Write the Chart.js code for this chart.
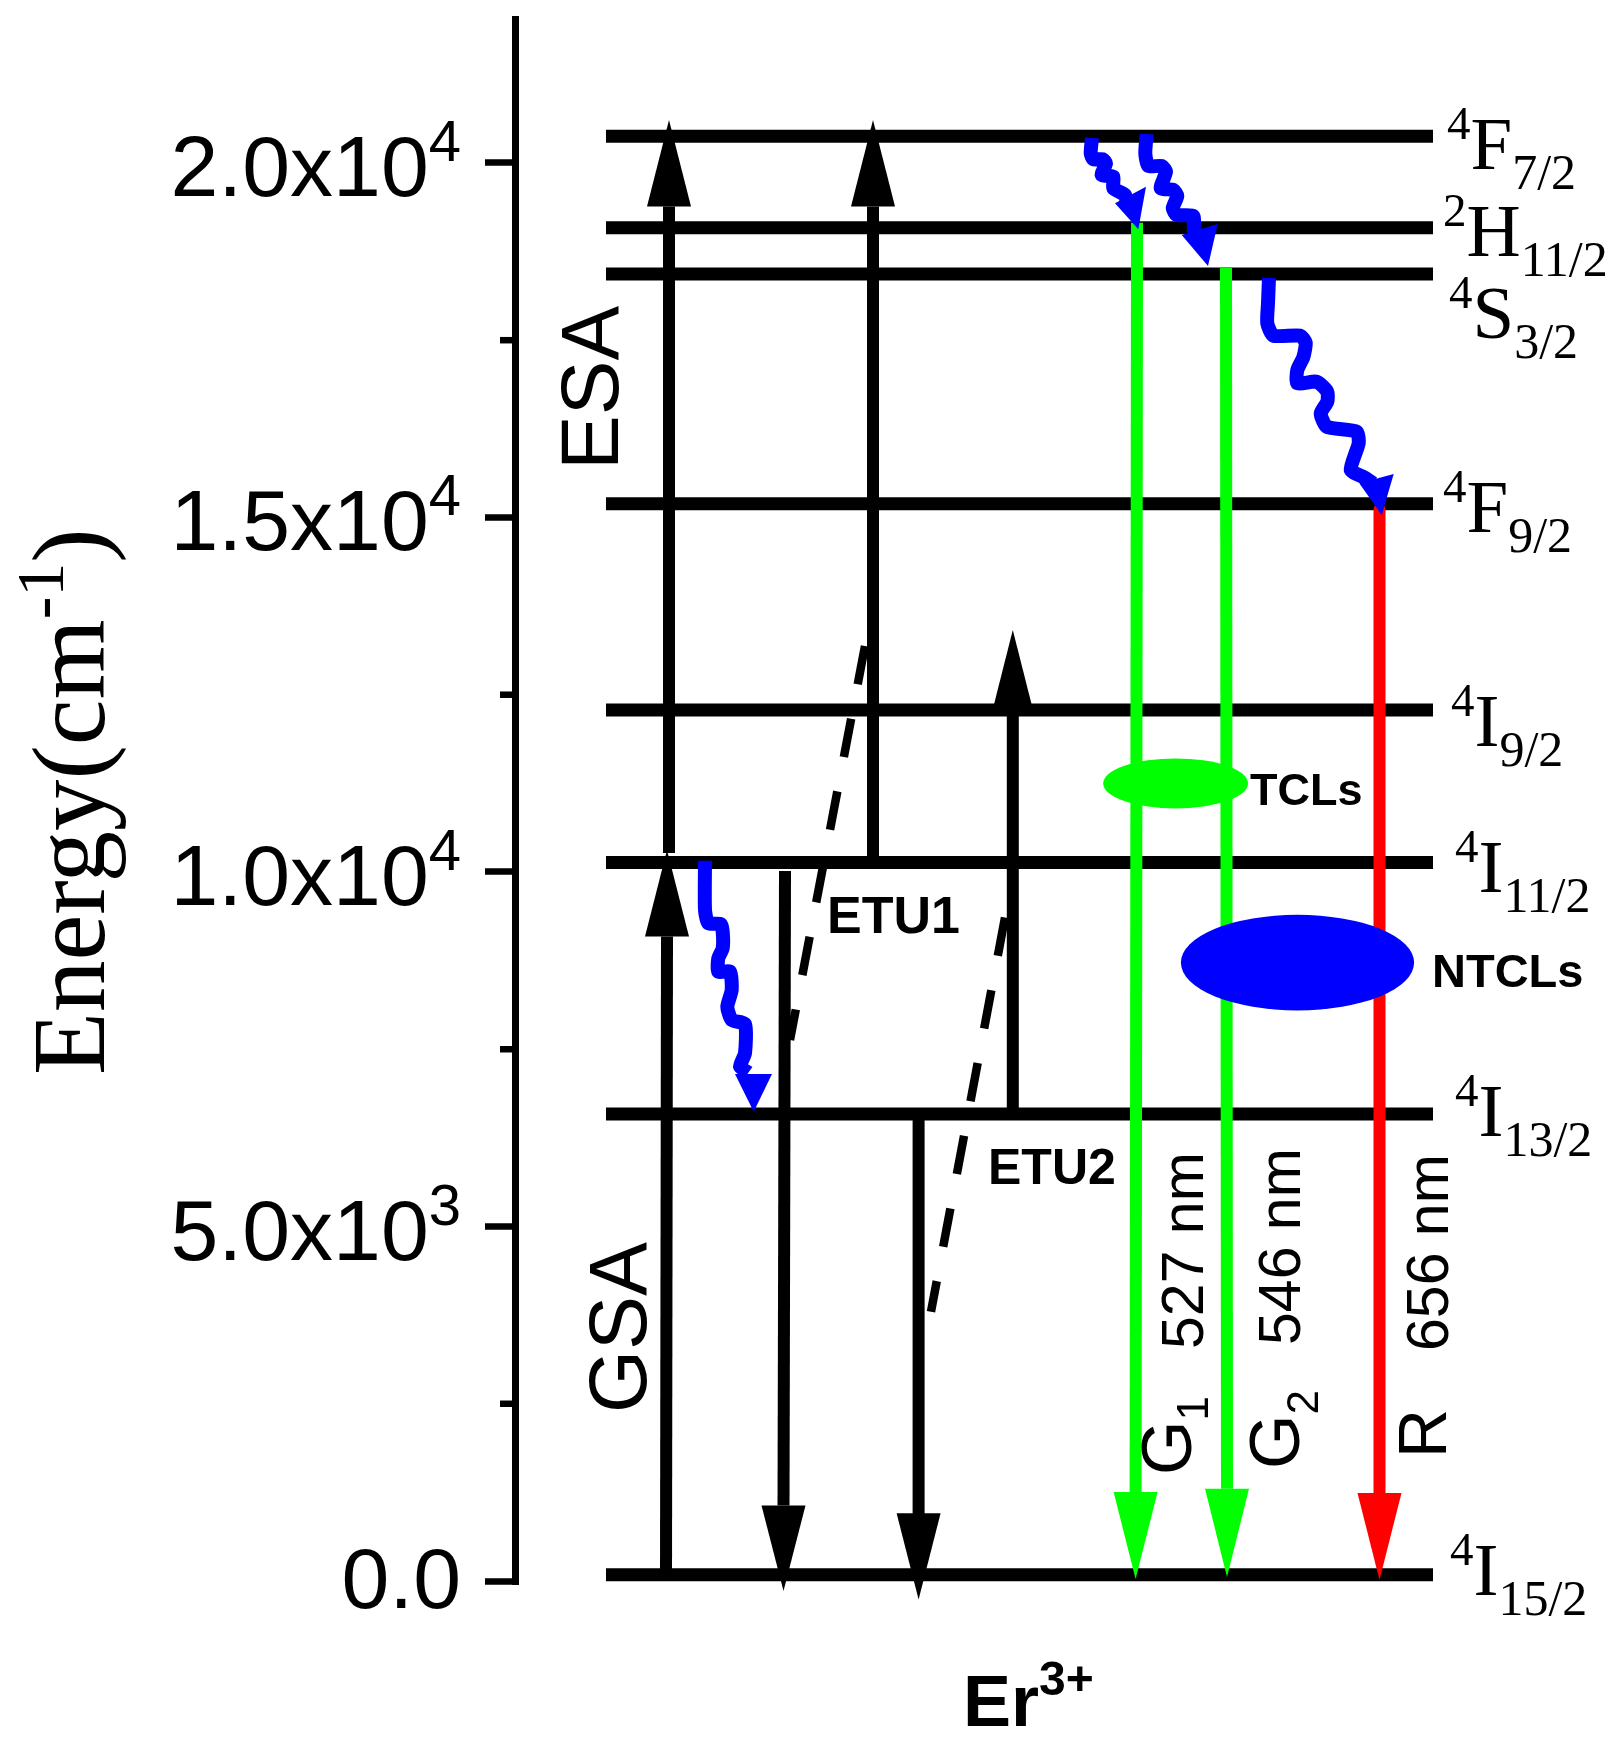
<!DOCTYPE html>
<html>
<head>
<meta charset="utf-8">
<title>Er3+ energy levels</title>
<script src="https://cdn.jsdelivr.net/npm/chart.js@4"></script>
<style>
    body { margin: 0; background: #fff; }
    canvas { display: block; }
</style>
</head>
<body>
<canvas id="levelChart" width="1622" height="1746"></canvas>
<script>
//Energy levels of Er3+ (cm-1), the x axis is just a position in the diagram (0-110)
const levelSup = ['4', '4', '4', '4', '4', '4', '2', '4'];
const levelLetter = ['I', 'I', 'I', 'I', 'F', 'S', 'H', 'F'];
const levelSub = ['15/2', '13/2', '11/2', '9/2', '9/2', '3/2', '11/2', '7/2'];
const levelEnergy = [90, 6587, 10134, 12285, 15192, 18434, 19086, 20375];
const levelStart = 9.1;
const levelEnd = 91.8;

//Axis ticks
const majorTicks = [0, 5000, 10000, 15000, 20000];
const minorTicks = [2500, 7500, 12500, 17500];
const tickMantissa = ['0.0', '5.0x10', '1.0x10', '1.5x10', '2.0x10'];
const tickExponent = ['', '3', '4', '4', '4'];

//Straight arrows
const arrowFromX = [15.1, 15.4, 35.8, 27.0, 40.36, 49.78, 62.2, 71.1, 86.45];
const arrowToX = [15.2, 15.4, 35.8, 26.85, 40.36, 49.78, 62.06, 71.2, 86.45];
const arrowFromE = [90, 10268, 10141, 10014, 6587, 6587, 19158, 18521, 15112];
const arrowBaseE = [9090, 19384, 19384, 1065, 955, 12369, 1255, 1300, 1241];
const arrowTipE = [10310, 20606, 20606, -141, -262, 13413, 28, 56, 14];

//Energy transfer (dashed) lines
const etu1Line = [{x: 35.0, y: 13187}, {x: 27.5, y: 7630}];
const etu2Line = [{x: 49.0, y: 9358}, {x: 41.6, y: 3798}];

//Non radiative relaxation (wavy) lines and their heads
const wavy1 = [[57.7, 20352], [57.57, 20136], [57.83, 20052], [58.77, 20052], [59.1, 19995], [58.67, 19830],
    [59.83, 19806], [59.83, 19643], [61.0, 19548], [61.17, 19431]];
const wavy1Head = [[63.1, 19665], [62.33, 19064], [60.0, 19431]];
const wavy2 = [[63.17, 20408], [63.03, 20136], [63.33, 19957], [64.67, 19957], [65.1, 19877], [64.57, 19643],
    [65.83, 19619], [66.23, 19534], [65.77, 19360], [66.17, 19266], [67.83, 19252], [67.9, 19055], [68.5, 18961]];
const wavy2Head = [[70.27, 19139], [69.3, 18547], [66.67, 18984]];
const wavy3 = [[75.4, 18378], [75.3, 18020], [75.23, 17738], [75.83, 17564], [78.5, 17564], [79.07, 17465],
    [78.83, 17259], [78.23, 17080], [78.23, 16892], [80.17, 16915], [81.23, 16774], [81.23, 16633],
    [80.57, 16469], [81.17, 16280], [84.17, 16210], [84.37, 16046], [83.57, 15669], [84.9, 15566], [85.83, 15482]];
const wavy3Head = [[87.87, 15613], [86.67, 15035], [84.43, 15482]];
const wavy4 = [[19.0, 10159], [19.0, 9464], [19.33, 9276], [20.57, 9266], [20.77, 9158], [20.77, 8924],
    [20.33, 8783], [20.33, 8594], [21.5, 8594], [21.67, 8335], [21.23, 8100], [21.67, 7912],
    [23.0, 7856], [23.0, 7443], [22.5, 7254], [23.33, 7169]];
const wavy4Head = [[22.0, 7151], [25.7, 7151], [23.87, 6619]];

//Ellipses marking the TCLs and NTCLs: centre x, centre energy, x radius, energy radius
const tclEllipse = [66.06, 11249, 7.24, 353];
const ntclEllipse = [78.25, 8722, 11.66, 674];

//Styles
const BLACK = '#000000';
const GREEN = '#00ff00';
const RED = '#ff0000';
const BLUE = '#0000ff';
const arrowColors = [BLACK, BLACK, BLACK, BLACK, BLACK, BLACK, GREEN, GREEN, RED];
const arrowHalfWidths = [2.2, 2.2, 2.2, 2.2, 2.2, 1.87, 2.2, 2.2, 2.2];

const SANS = '"Liberation Sans"';
const SERIF = '"Liberation Serif"';

function lineDataset(label, data, color, width, dash) {
    return {
        label: label,
        data: data,
        borderColor: color,
        borderWidth: width,
        borderDash: dash || [],
        borderCapStyle: 'butt',
        borderJoinStyle: 'round',
        pointRadius: 0,
        tension: 0,
        clip: false
    };
}

function toPoints(list) {
    return list.map(p => ({x: p[0], y: p[1]}));
}

//Datasets listed in painting order, reversed at the end because Chart.js paints the first one last
function buildDatasets() {
    let sets = [];
    levelEnergy.forEach((energy, i) => {
        sets.push(lineDataset(levelLetter[i] + levelSub[i], [{x: levelStart, y: energy}, {x: levelEnd, y: energy}], BLACK, 13));
    });
    sets.push(lineDataset('ETU1', etu1Line, BLACK, 8.5, [39, 35]));
    sets.push(lineDataset('ETU2', etu2Line, BLACK, 8.5, [39, 35]));
    arrowFromX.forEach((x, i) => {
        sets.push(lineDataset('arrow' + i, [{x: x, y: arrowFromE[i]}, {x: arrowToX[i], y: arrowBaseE[i]}], arrowColors[i], 12));
    });
    [wavy1, wavy2, wavy3, wavy4].forEach((wave, i) => {
        let set = lineDataset('wavy' + i, toPoints(wave), BLUE, 14);
        set.tension = 0.2;
        sets.push(set);
    });
    return sets.reverse();
}

function fillTriangle(ctx, chart, points, color) {
    const xScale = chart.scales.x;
    const yScale = chart.scales.y;
    ctx.fillStyle = color;
    ctx.beginPath();
    points.forEach(p => ctx.lineTo(xScale.getPixelForValue(p[0]), yScale.getPixelForValue(p[1])));
    ctx.closePath();
    ctx.fill();
}

function fillEllipse(ctx, chart, e, color) {
    const xScale = chart.scales.x;
    const yScale = chart.scales.y;
    const cx = xScale.getPixelForValue(e[0]);
    const cy = yScale.getPixelForValue(e[1]);
    const rx = xScale.getPixelForValue(e[0] + e[2]) - cx;
    const ry = cy - yScale.getPixelForValue(e[1] + e[3]);
    ctx.fillStyle = color;
    ctx.beginPath();
    ctx.ellipse(cx, cy, rx, ry, 0, 0, Math.PI * 2);
    ctx.fill();
}

//Draws a row of text pieces [text, font, shift]. A rotated row runs upwards from x,y
function drawRuns(ctx, x, y, runs, rotated) {
    ctx.save();
    ctx.translate(x, y);
    if (rotated) {
        ctx.rotate(-Math.PI / 2);
    }
    ctx.fillStyle = BLACK;
    ctx.textAlign = 'left';
    ctx.textBaseline = 'alphabetic';
    let pos = 0;
    runs.forEach(run => {
        ctx.font = run[1];
        ctx.fillText(run[0], pos, run[2]);
        pos += ctx.measureText(run[0]).width;
    });
    ctx.restore();
}

function drawAxisText(ctx, chart) {
    const yScale = chart.scales.y;
    const left = chart.chartArea.left;
    ctx.strokeStyle = BLACK;
    ctx.lineWidth = 6.5;
    minorTicks.forEach(value => {
        const y = yScale.getPixelForValue(value);
        ctx.beginPath();
        ctx.moveTo(left - 15, y);
        ctx.lineTo(left, y);
        ctx.stroke();
    });
    majorTicks.forEach((value, i) => {
        const runs = [[tickMantissa[i], '86px ' + SANS, 0], [tickExponent[i], '58px ' + SANS, -35]];
        ctx.font = runs[0][1];
        let width = ctx.measureText(runs[0][0]).width;
        ctx.font = runs[1][1];
        width += ctx.measureText(runs[1][0]).width;
        const shift = value === 0 ? 27 : 33;
        drawRuns(ctx, 461 - width, yScale.getPixelForValue(value) + shift, runs, false);
    });
    drawRuns(ctx, 103.5, 1075, [['Energy(cm', '103px ' + SERIF, 0], ['-1', '68px ' + SERIF, -41], [')', '103px ' + SERIF, 0]], true);
}

function drawLevelLabels(ctx) {
    const labelX = [1450, 1455, 1455, 1451, 1443, 1449, 1443, 1447];
    const labelY = [1595, 1136, 892, 746, 532, 338, 256, 169];
    levelEnergy.forEach((energy, i) => {
        drawRuns(ctx, labelX[i], labelY[i], [
            [levelSup[i], '47px ' + SERIF, -30],
            [levelLetter[i], '75px ' + SERIF, 0],
            [levelSub[i], '50px ' + SERIF, 20]
        ], false);
    });
}

function drawNotes(ctx) {
    const bold = size => 'bold ' + size + 'px ' + SANS;
    const sans = size => size + 'px ' + SANS;
    drawRuns(ctx, 618, 470, [['ESA', sans(82), 0]], true);
    drawRuns(ctx, 646, 1413, [['GSA', sans(81), 0]], true);
    drawRuns(ctx, 827, 933, [['ETU1', bold(52), 0]], false);
    drawRuns(ctx, 988, 1184, [['ETU2', bold(50), 0]], false);
    drawRuns(ctx, 1250, 805, [['TCLs', bold(45), 0]], false);
    drawRuns(ctx, 1432, 987, [['NTCLs', bold(47), 0]], false);
    drawRuns(ctx, 1203, 1349, [['527 nm', sans(59), 0]], true);
    drawRuns(ctx, 1300, 1345, [['546 nm', sans(59), 0]], true);
    drawRuns(ctx, 1448, 1351, [['656 nm', sans(59), 0]], true);
    drawRuns(ctx, 1191, 1475, [['G', sans(70), 0], ['1', sans(44), 17]], true);
    drawRuns(ctx, 1299, 1469, [['G', sans(70), 0], ['2', sans(44), 19]], true);
    drawRuns(ctx, 1446, 1458, [['R', sans(68), 0]], true);
    drawRuns(ctx, 963, 1726, [['Er', bold(72), 0], ['3+', bold(48), -31]], false);
}

//Arrow heads, ellipses and all text go on top of the line datasets
const diagramPlugin = {
    id: 'diagramPlugin',
    afterDatasetsDraw(chart) {
        const ctx = chart.ctx;
        ctx.save();
        arrowToX.forEach((x, i) => {
            const half = arrowHalfWidths[i];
            fillTriangle(ctx, chart, [[x - half, arrowBaseE[i]], [x, arrowTipE[i]], [x + half, arrowBaseE[i]]], arrowColors[i]);
        });
        [wavy1Head, wavy2Head, wavy3Head, wavy4Head].forEach(head => fillTriangle(ctx, chart, head, BLUE));
        fillEllipse(ctx, chart, tclEllipse, GREEN);
        fillEllipse(ctx, chart, ntclEllipse, BLUE);
        drawAxisText(ctx, chart);
        drawLevelLabels(ctx);
        drawNotes(ctx);
        ctx.restore();
    }
};

new Chart(document.getElementById('levelChart'), {
    type: 'line',
    data: {datasets: buildDatasets()},
    plugins: [diagramPlugin],
    options: {
        responsive: false,
        animation: false,
        devicePixelRatio: 1,
        layout: {padding: {left: 0, top: 19, right: 7, bottom: 161.5}},
        plugins: {legend: {display: false}, tooltip: {enabled: false}},
        scales: {
            x: {type: 'linear', min: 0, max: 110, display: false},
            y: {
                type: 'linear',
                min: -49,
                max: 22030,
                afterFit: scale => { scale.width = 515; },
                afterBuildTicks: scale => { scale.ticks = majorTicks.map(v => ({value: v})); },
                border: {display: true, color: BLACK, width: 7},
                grid: {drawOnChartArea: false, drawTicks: true, tickLength: 30, tickWidth: 6.5, tickColor: BLACK},
                ticks: {display: false}
            }
        }
    }
});
</script>
</body>
</html>
